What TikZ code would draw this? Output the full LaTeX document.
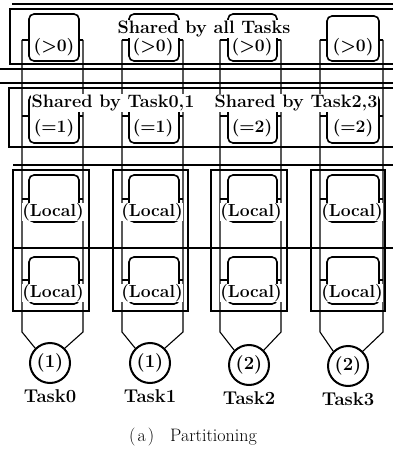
\documentclass[tikz,border=0pt]{standalone}
\usetikzlibrary{fit}
\begin{document}
\begin{tikzpicture}[x=1pt,y=-1pt,
  rule/.style={line width=1.1pt},
  frame/.style={line width=1.5pt},
  bus/.style={line width=1.1pt},
  cup/.style={draw, rounded corners=5pt, line width=1.6pt, inner sep=0pt},
  txt/.style={font=\fontsize{17.5}{20}\selectfont\bfseries},
  big/.style={font=\fontsize{18.5}{21}\selectfont\bfseries},
  banner/.style={font=\fontsize{18}{21}\selectfont\bfseries, fill=white, inner xsep=1pt, inner ysep=1pt},
  lab/.style={txt, fill=white, inner xsep=0.3pt, inner ysep=0.6pt},
  pe/.style={circle, draw, line width=2pt, minimum size=40pt, inner sep=0pt, big},
  caption/.style={font=\fontsize{18}{21}\selectfont}]
\useasboundingbox (0,0) rectangle (393,454);

% memory bands
\draw[rule] (12,4) -- (393,4);
\draw[frame] (393,9) -- (10,9) -- (10,64) -- (393,64);
\draw[rule] (0,69) -- (393,69);
\draw[rule] (0,83) -- (393,83);
\draw[frame] (393,88) -- (9,88) -- (9,147) -- (393,147);
\draw[rule] (13,165) -- (393,165);
\draw[rule] (13,248) -- (393,248);

% one column per task: bus lines, local frame, memory cups, processor
\foreach \i/\l/\r/\fr/\cl/\cr/\ta/\cx/\cy/\k in
  {0/22/83/89/29/79/14/50/363/1,
   1/122/183/188/129/179/14/150/363/1,
   2/220/281/287/228/277/14/249/365/2,
   3/320/383/385/327/379/16/348/366/2}{
  \draw[frame] (\l-9,170) rectangle (\fr,311);
  \node[cup, fit={(\cl,\ta) (\cr,61)}] (A\i) {};
  \node[cup, fit={(\cl,95) (\cr,143)}] (B\i) {};
  \node[cup, fit={(\cl,175) (\cr,222)}] (C\i) {};
  \node[cup, fit={(\cl,257) (\cr,304)}] (D\i) {};
  \node[pe] (P\i) at (\cx,\cy) {(\k)};
  \node[big, below=2pt] (N\i) at (P\i.south) {Task\i};
  \coordinate (Lt\i) at (\l,40);
  \coordinate (Rt\i) at (\r,40);
  \coordinate (Lb\i) at (\l,332);
  \coordinate (Rb\i) at (\r,332);
  \draw[bus] (Lt\i) -- (Lb\i) -- (P\i.135);
  \draw[bus] (Rt\i) -- (Rb\i) -- (P\i.45);
  \foreach \n/\y in {A/40, B/116, C/199, D/280}{
    \draw[bus] (Lt\i |- 0,\y) -- (\n\i.west |- 0,\y);
    \draw[bus] (Rt\i |- 0,\y) -- (\n\i.east |- 0,\y);
  }
}

% sharing banners
\node[banner] (all) at (204,29) {Shared by all Tasks};
\node[banner] (s01) at (113,103) {Shared by Task0,1};
\node[banner] (s23) at (296,103) {Shared by Task2,3};

% cup contents
\foreach \i/\x/\k in {0/54/1, 1/153/1, 2/252/2, 3/353/2}{
  \node[lab] (a\i) at (\x,47) {(>0)};
  \node[lab] (b\i) at (\x,128) {(=\k)};
  \node[lab] (c\i) at (\x-1,212) {(Local)};
  \node[lab] (d\i) at (\x-1,293) {(Local)};
}

\node[caption] (cap) at (193,437) {(\hspace{2pt}a\hspace{2pt})\hspace{16pt}Partitioning};
\end{tikzpicture}
\end{document}
